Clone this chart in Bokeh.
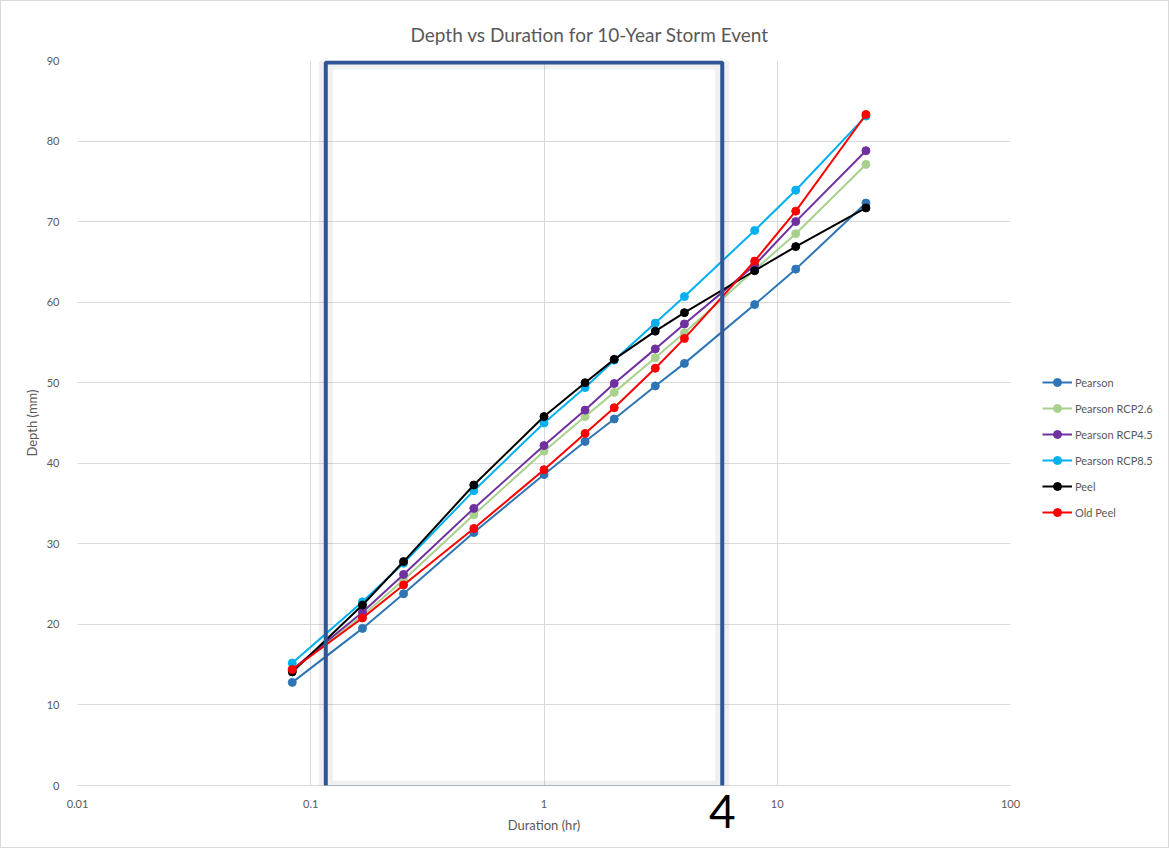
from bokeh.plotting import figure
from bokeh.layouts import row
from bokeh.models import (FixedTicker, CustomJSTickFormatter, Legend, LegendItem,
                          BoxAnnotation, LogAxis, ColumnDataSource, Range1d)
from bokeh.embed import file_html
from bokeh.resources import INLINE

duration_hr = [1/12, 1/6, 0.25, 0.5, 1, 1.5, 2, 3, 4, 8, 12, 24]
pearson = [12.8, 19.5, 23.8, 31.4, 38.6, 42.7, 45.5, 49.6, 52.4, 59.7, 64.1, 72.3]
pearson_rcp26 = [14.3, 21.1, 25.5, 33.6, 41.5, 45.8, 48.8, 53.1, 56.2, 64.0, 68.5, 77.1]
pearson_rcp45 = [14.4, 21.5, 26.2, 34.4, 42.2, 46.6, 49.9, 54.2, 57.3, 64.6, 70.0, 78.8]
pearson_rcp85 = [15.2, 22.8, 27.6, 36.6, 45.0, 49.4, 52.8, 57.4, 60.7, 68.9, 73.9, 83.1]
peel = [14.1, 22.4, 27.8, 37.3, 45.8, 50.0, 52.9, 56.4, 58.7, 63.9, 66.9, 71.7]
old_peel = [14.4, 20.8, 24.9, 31.9, 39.2, 43.7, 46.9, 51.8, 55.5, 65.1, 71.3, 83.3]

series_names = ["Pearson", "Pearson RCP2.6", "Pearson RCP4.5", "Pearson RCP8.5", "Peel", "Old Peel"]
series_values = [pearson, pearson_rcp26, pearson_rcp45, pearson_rcp85, peel, old_peel]
series_colors = ["#2E75B6", "#A9D18E", "#7030A0", "#00B0F0", "#000000", "#FF0000"]

x_ticks = [0.01, 0.1, 1, 10, 100]
y_ticks = [0, 10, 20, 30, 40, 50, 60, 70, 80, 90]

# highlight box (data coords) and its annotation
box_left, box_right, box_bottom, box_top = 0.116, 5.81, -0.25, 89.75
note_text = "4"

FONT = "Lato"
GRAY = "#595959"
BORDER = "1px solid #D9D9D9"

p = figure(width=1030, height=848, x_axis_type="log", output_backend="svg",
           toolbar_location=None, x_range=Range1d(0.01, 100), y_range=Range1d(0, 90),
           min_border_left=76, min_border_right=21, min_border_top=59, min_border_bottom=64)

p.title.text = "Depth vs Duration for 10-Year Storm Event"
p.title.align = "left"
p.title.offset = 333
p.title.standoff = 30
p.title.text_font = FONT
p.title.text_font_size = "19px"
p.title.text_font_style = "normal"
p.title.text_color = GRAY

p.outline_line_color = None
p.background_fill_color = "white"
p.border_fill_color = "white"
p.styles = {"border-left": BORDER, "border-top": BORDER, "border-bottom": BORDER,
            "box-sizing": "border-box"}

p.xaxis.ticker = FixedTicker(ticks=x_ticks)
p.xaxis.formatter = CustomJSTickFormatter(code="return tick < 1 ? tick.toString() : tick.toFixed(0);")
p.yaxis.ticker = FixedTicker(ticks=y_ticks)
p.xaxis.axis_label = "Duration (hr)"
p.yaxis.axis_label = "Depth (mm)"
for ax in (p.xaxis, p.yaxis):
    ax.axis_line_color = "#D9D9D9"
    ax.major_tick_line_color = None
    ax.minor_tick_line_color = None
    ax.major_label_text_font = FONT
    ax.major_label_text_font_size = "11px"
    ax.major_label_text_color = GRAY
    ax.axis_label_text_font = FONT
    ax.axis_label_text_font_size = "13px"
    ax.axis_label_text_font_style = "normal"
    ax.axis_label_text_color = GRAY
p.yaxis.axis_line_color = None
p.xaxis.major_label_standoff = 8
p.yaxis.major_label_standoff = 12
p.xaxis.axis_label_standoff = 6
p.yaxis.axis_label_standoff = 4

p.xgrid.grid_line_color = "#D9D9D9"
p.ygrid.grid_line_color = "#D9D9D9"
p.xgrid.minor_grid_line_color = None

sources = []
for name, vals, col in zip(series_names, series_values, series_colors):
    src = ColumnDataSource(dict(x=duration_hr, y=vals))
    sources.append(src)
    p.line("x", "y", source=src, line_color=col, line_width=2)
    p.scatter("x", "y", source=src, size=8, fill_color=col, line_color=col)

shadow = BoxAnnotation(left=box_left, right=box_right, bottom=box_bottom, top=box_top,
                       fill_alpha=0, line_color="#000000", line_alpha=0.06, line_width=14)
p.add_layout(shadow)
box = BoxAnnotation(left=box_left, right=box_right, bottom=box_bottom, top=box_top,
                    fill_alpha=0, line_color="#2F5597", line_alpha=1.0, line_width=4)
p.add_layout(box)

# the large "4" note under the box's right edge, drawn as an extra axis label
note_axis = LogAxis(ticker=FixedTicker(ticks=[box_right]),
                    formatter=CustomJSTickFormatter(code="return '%s';" % note_text),
                    axis_line_color=None, major_tick_line_color=None,
                    minor_tick_line_color=None, major_tick_out=0, major_tick_in=0,
                    major_label_standoff=-41, major_label_text_font=FONT,
                    major_label_text_font_size="46px", major_label_text_color="#000000")
p.add_layout(note_axis, "below")

# legend panel on the right (same sources; its ranges keep the marks out of view)
q = figure(width=139, height=848, output_backend="svg", toolbar_location=None,
           x_range=Range1d(0, 0.01), y_range=Range1d(0, 1),
           min_border_left=0, min_border_right=0, min_border_top=0, min_border_bottom=0,
           x_axis_location=None, y_axis_location=None)
q.grid.visible = False
q.outline_line_color = None
q.styles = {"border-right": BORDER, "border-top": BORDER, "border-bottom": BORDER,
            "box-sizing": "border-box"}
items = []
for name, src, col in zip(series_names, sources, series_colors):
    r1 = q.line("x", "y", source=src, line_color=col, line_width=2)
    r2 = q.scatter("x", "y", source=src, size=8, fill_color=col, line_color=col)
    items.append(LegendItem(label=name, renderers=[r1, r2]))
legend = Legend(items=items, location=(12, 263), orientation="vertical",
                label_text_font=FONT, label_text_font_size="11px", label_text_color=GRAY,
                background_fill_alpha=0, border_line_color=None, spacing=6,
                glyph_width=30, glyph_height=20, label_standoff=3, padding=0, margin=0)
q.add_layout(legend, "center")

layout = row(p, q, spacing=0)
open("out.html", "w").write(file_html(layout, INLINE))
